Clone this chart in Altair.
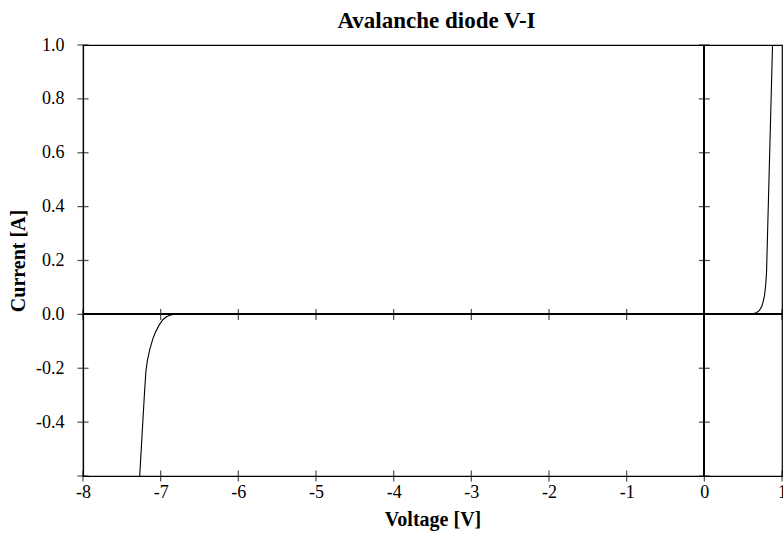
import altair as alt
import pandas as pd

title_text = "Avalanche diode V-I"
x_title = "Voltage [V]"
y_title = "Current [A]"

voltage = [-7.27, -7.21, -7.19, -7.17, -7.14, -7.10, -7.07, -7.02, -6.97, -6.92, -6.87, -6.83,
           0.58, 0.62, 0.67, 0.71, 0.74, 0.76, 0.775, 0.79, 0.801, 0.878]
current = [-0.60, -0.30, -0.21, -0.17, -0.13, -0.09, -0.068, -0.04, -0.019, -0.008, -0.002, 0.0,
           0.0, 0.002, 0.006, 0.015, 0.03, 0.05, 0.07, 0.11, 0.156, 1.0]

x_ticks = [-8, -7, -6, -5, -4, -3, -2, -1, 0, 1]
y_ticks = [-0.6, -0.4, -0.2, 0.0, 0.2, 0.4, 0.6, 0.8, 1.0]
y_labels = [-0.4, -0.2, 0.0, 0.2, 0.4, 0.6, 0.8, 1.0]

x_dom = [-8, 1]
y_dom = [-0.6, 1.0]

FONT = "Liberation Serif"

curve = pd.DataFrame({"V": voltage, "I": current})

xs = alt.Scale(domain=x_dom, nice=False, zero=False)
ys = alt.Scale(domain=y_dom, nice=False, zero=False)

fix_minus = "replace(datum.label, '\u2212', '-')"

line = alt.Chart(curve).mark_line(color="black", strokeWidth=1.1, clip=True).encode(
    x=alt.X("V:Q", scale=xs, title=x_title,
            axis=alt.Axis(values=x_ticks, ticks=False, grid=False, labelPadding=7,
                          format="d", labelExpr=fix_minus, titlePadding=8,
                          domainColor="black", domainWidth=1.2)),
    y=alt.Y("I:Q", scale=ys, title=y_title,
            axis=alt.Axis(values=y_labels, ticks=False, grid=False, labelPadding=19,
                          format=".1f", labelExpr=fix_minus, titlePadding=7,
                          domainColor="black", domainWidth=1.2)),
)

zero_v = alt.Chart(curve).mark_rule(color="black", strokeWidth=1.2).encode(x=alt.datum(0, scale=xs))
zero_h = alt.Chart(curve).mark_rule(color="black", strokeWidth=1.2).encode(y=alt.datum(0, scale=ys))

xt_bottom = pd.DataFrame({"V": x_ticks, "I": [y_dom[0]] * len(x_ticks)})
xt_zero = pd.DataFrame({"V": x_ticks, "I": [0.0] * len(x_ticks)})
yt_left = pd.DataFrame({"V": [x_dom[0]] * len(y_ticks), "I": y_ticks})
yt_zero = pd.DataFrame({"V": [0] * len(y_ticks), "I": y_ticks})

def vticks(df):
    return alt.Chart(df).mark_tick(orient="vertical", color="black", size=11, thickness=1.2).encode(
        x=alt.X("V:Q", scale=xs), y=alt.Y("I:Q", scale=ys))

def hticks(df):
    return alt.Chart(df).mark_tick(orient="horizontal", color="black", size=11, thickness=1.2).encode(
        x=alt.X("V:Q", scale=xs), y=alt.Y("I:Q", scale=ys))

chart = alt.layer(
    zero_v, zero_h,
    vticks(xt_bottom), vticks(xt_zero), hticks(yt_left), hticks(yt_zero),
    line,
).properties(
    width=699, height=431,
    background="white",
    title=alt.TitleParams(title_text, font=FONT, fontSize=23, fontWeight="bold",
                          anchor="middle", offset=3, dx=4, color="black"),
    autosize=alt.AutoSizeParams(type="none"),
    padding={"left": 83, "top": 45, "right": 1, "bottom": 62},
).configure_view(
    stroke="black", strokeWidth=1.2
).configure_axis(
    labelFont=FONT, labelFontSize=18, labelColor="black",
    titleFont=FONT, titleFontSize=20, titleFontWeight="bold", titleColor="black",
    labelFlush=False, labelOverlap=False,
)

chart.save("out.html", embed_options={"renderer": "svg", "actions": False})
